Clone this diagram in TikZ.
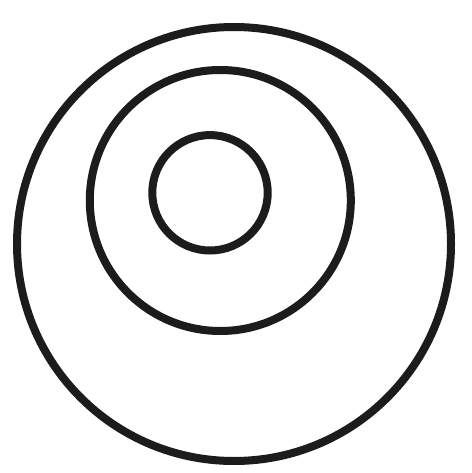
\documentclass[tikz,border=0pt]{standalone}
\definecolor{ink}{HTML}{1C1C1C}
\begin{document}
\begin{tikzpicture}[x=1pt,y=-1pt,ring/.style={draw=ink,line width=8pt}]
\fill[white] (0,0) rectangle (471,473);
\useasboundingbox (0,0) rectangle (471,473);
\draw[ring] (234,244) circle[radius=217];
\draw[ring] (220.3,200.5) circle[radius=130.5];
\draw[ring] (210,192.8) circle[radius=57.7];
\end{tikzpicture}
\end{document}
